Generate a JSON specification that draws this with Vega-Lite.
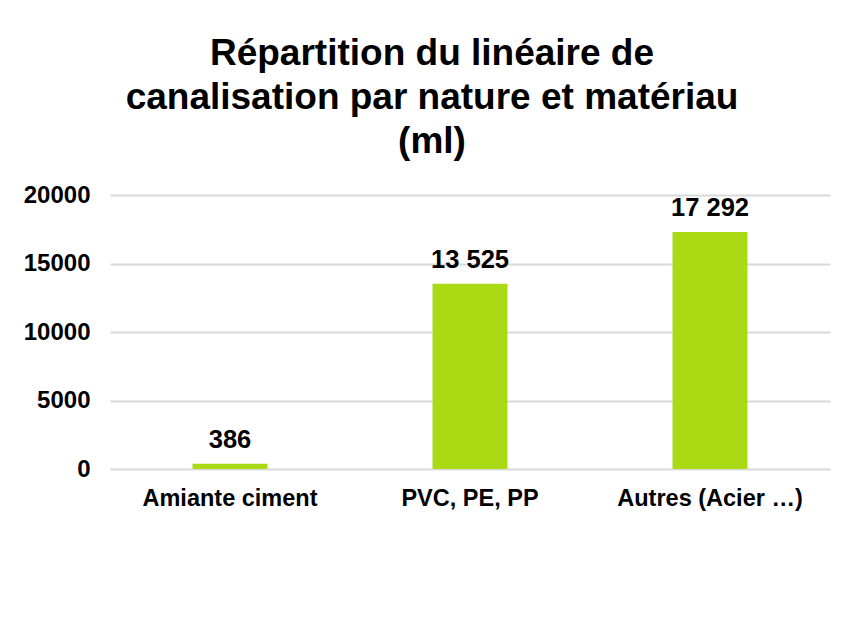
{
  "$schema": "https://vega.github.io/schema/vega-lite/v6.json",
  "autosize": {"type": "none"},
  "width": 720,
  "height": 274,
  "padding": {"left": 110, "top": 195, "right": 20, "bottom": 153},
  "background": "white",
  "title": {
    "text": ["Répartition du linéaire de", "canalisation par nature et matériau", "(ml)"],
    "font": "Liberation Sans",
    "fontSize": 37,
    "fontWeight": "bold",
    "color": "#000000",
    "lineHeight": 44,
    "anchor": "middle",
    "dx": -38,
    "offset": 22
  },
  "data": {
    "values": [
      {"categorie": "Amiante ciment", "longueur": 386},
      {"categorie": "PVC, PE, PP", "longueur": 13525},
      {"categorie": "Autres (Acier …)", "longueur": 17292}
    ]
  },
  "encoding": {
    "x": {
      "field": "categorie",
      "type": "nominal",
      "sort": null,
      "scale": {"paddingInner": 0.6875, "paddingOuter": 0.34375},
      "axis": {
        "title": null,
        "labelAngle": 0,
        "labelLimit": 400,
        "labelOverlap": false,
        "domain": false,
        "ticks": false,
        "tickSize": 0,
        "labelPadding": 17,
        "labelFont": "Liberation Sans",
        "labelFontSize": 23.5,
        "labelFontWeight": "bold",
        "labelColor": "#000000"
      }
    },
    "y": {
      "field": "longueur",
      "type": "quantitative",
      "scale": {"domain": [0, 20000], "nice": false},
      "axis": {
        "title": null,
        "values": [0, 5000, 10000, 15000, 20000],
        "format": "d",
        "domain": false,
        "ticks": false,
        "tickSize": 0,
        "labelPadding": 20,
        "labelFont": "Liberation Sans",
        "labelFontSize": 24,
        "labelFontWeight": "bold",
        "labelColor": "#000000",
        "grid": true,
        "gridColor": "#d9d9d9",
        "gridWidth": 2
      }
    }
  },
  "layer": [
    {"mark": {"type": "bar", "color": "#a9da14"}},
    {
      "mark": {
        "type": "text",
        "baseline": "alphabetic",
        "dy": -16,
        "font": "Liberation Sans",
        "fontSize": 25.5,
        "fontWeight": "bold",
        "color": "#000000"
      },
      "encoding": {"text": {"field": "longueur", "type": "quantitative", "format": ",d"}}
    }
  ],
  "config": {
    "view": {"stroke": null},
    "locale": {"number": {"decimal": ",", "thousands": " ", "grouping": [3], "currency": ["", " €"]}}
  }
}
